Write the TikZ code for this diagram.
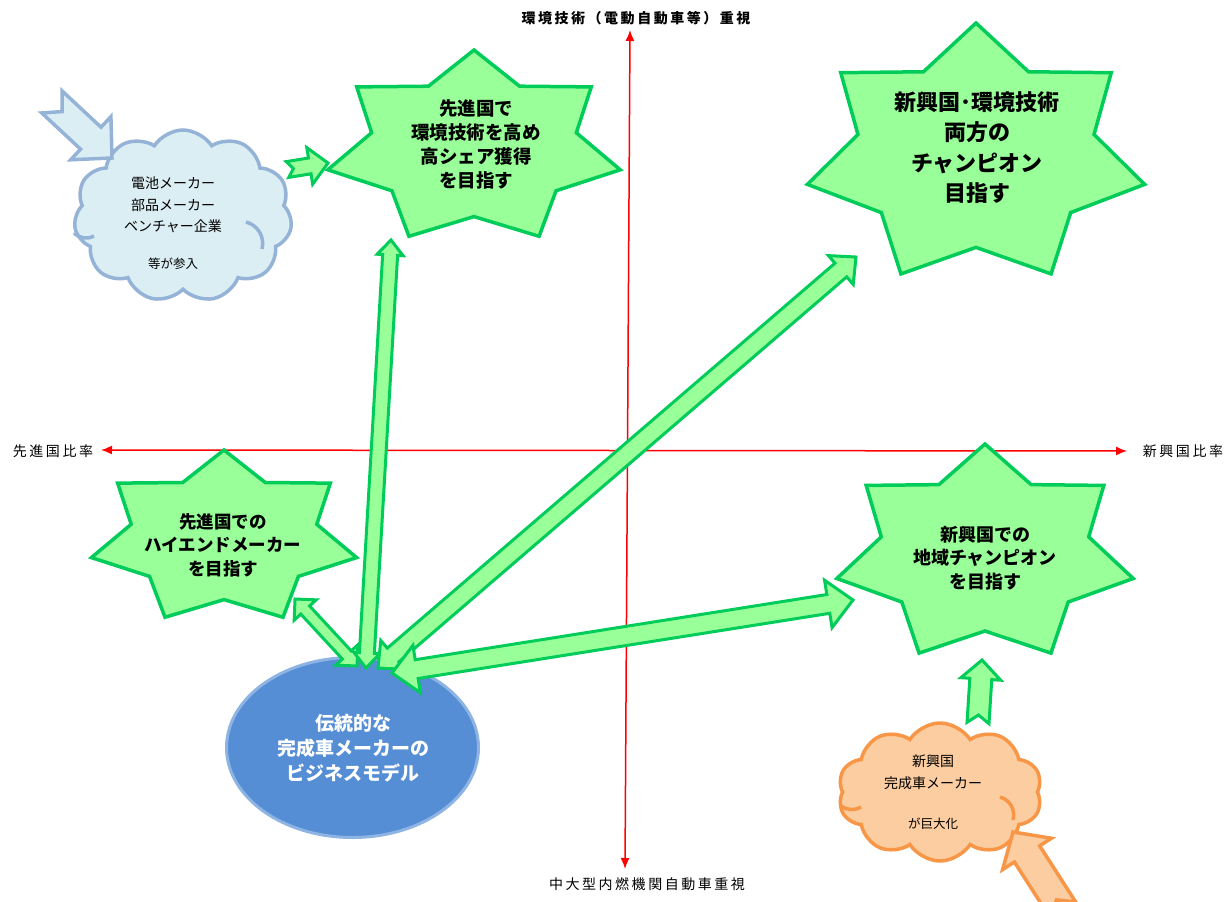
\documentclass[tikz,border=0pt]{standalone}
\usepackage{fontspec}
\newfontfamily\jp{Noto Sans CJK JP}
\usetikzlibrary{calc,arrows.meta,shapes.geometric,shapes.symbols}
\definecolor{gfill}{RGB}{153,255,153}
\definecolor{gline}{RGB}{0,204,90}
\definecolor{bcfill}{RGB}{219,238,244}
\definecolor{bcline}{RGB}{149,179,215}
\definecolor{ocfill}{RGB}{252,205,160}
\definecolor{ocline}{RGB}{247,150,70}
\definecolor{elfill}{RGB}{85,142,213}
\definecolor{elline}{RGB}{142,180,227}
\tikzset{
 axisline/.style={red, line width=1.5pt, {Latex[length=11pt,width=9pt]}-{Latex[length=11pt,width=9pt]}},
 starshape/.style={draw=gline, fill=gfill, line width=3.5pt, line join=miter},
 blockarrow/.style={draw=gline, fill=gfill, line width=3pt, line join=miter},
 startext/.style={font=\jp\bfseries\fontsize{18.5pt}{24pt}\selectfont, align=center, text=black, inner sep=0pt},
 axlab/.style={font=\jp\fontsize{14pt}{16pt}\selectfont\addfontfeature{LetterSpace=18}, inner sep=0pt},
 cloudtext/.style={font=\jp\fontsize{14pt}{21.7pt}\selectfont, align=center, inner sep=0pt},
 smalltext/.style={font=\jp\fontsize{12.5pt}{15pt}\selectfont, inner sep=0pt},
 bluearc/.style={draw=bcline, line width=3.5pt},
 orangearc/.style={draw=ocline, line width=3.5pt},
}
% double headed block arrow: #1 A, #2 B, #3 half shaft, #4 half head, #5 head length
\newcommand\dblblock[5]{%
 \draw[blockarrow] (#1) -- ($(#1)!#5!(#2)!#4!90:(#2)$) -- ($(#1)!#5!(#2)!#3!90:(#2)$)
  -- ($(#2)!#5!(#1)!#3!-90:(#1)$) -- ($(#2)!#5!(#1)!#4!-90:(#1)$) -- (#2)
  -- ($(#2)!#5!(#1)!#4!90:(#1)$) -- ($(#2)!#5!(#1)!#3!90:(#1)$)
  -- ($(#1)!#5!(#2)!#3!-90:(#2)$) -- ($(#1)!#5!(#2)!#4!-90:(#2)$) -- cycle;}
% notched block arrow: #1 style, #2 tail A, #3 tip B, #4 half shaft, #5 half head, #6 head length, #7 notch
\newcommand\notchblock[7]{%
 \draw[#1] (#3) -- ($(#3)!#6!(#2)!#5!90:(#2)$) -- ($(#3)!#6!(#2)!#4!90:(#2)$)
  -- ($(#2)!#4!-90:(#3)$) -- ($(#2)!#7!(#3)$) -- ($(#2)!#4!90:(#3)$)
  -- ($(#3)!#6!(#2)!#4!-90:(#2)$) -- ($(#3)!#6!(#2)!#5!-90:(#2)$) -- cycle;}
% seven point star: #1 cx, #2 cy, #3 rx, #4 ry
\newcommand\sevenstar[4]{%
 \begin{scope}[shift={(#1,#2)},x=#3pt,y=#4pt]
  \draw[starshape] (90:1) \foreach \k in {1,...,13}{ -- ({90-\k*180/7}:{1-0.3*mod(\k,2)}) } -- cycle;
 \end{scope}}
\begin{document}
\begin{tikzpicture}[x=1pt,y=-1pt]
\useasboundingbox (0,0) rectangle (1232,902);
% axes
\coordinate (vt) at (630,30);
\coordinate (vb) at (625,869);
\coordinate (hl) at (101,450);
\coordinate (hr) at (1127,451);
\draw[axisline] (vb) -- (vt);
\draw[axisline] (hl) -- (hr);
\node[axlab, font=\jp\bfseries\fontsize{14pt}{16pt}\selectfont\addfontfeature{LetterSpace=18}] (labtop) at (636,18) {環境技術（電動自動車等）重視};
\node[axlab] (lableft) at (53,451) {先進国比率};
\node[axlab] (labright) at (1183,451) {新興国比率};
\node[axlab] (labbottom) at (647,884) {中大型内燃機関自動車重視};
% stars
\sevenstar{474}{148}{150}{98}
\sevenstar{976}{155}{173}{132}
\sevenstar{224}{538}{136}{88}
\sevenstar{985}{554}{152}{110}
% ellipse
\node[ellipse, draw=elline, fill=elfill, line width=3pt, minimum width=252pt, minimum height=180pt] (el) at (352.5,747.5) {};
% clouds
\node[cloud, cloud puffs=11, cloud puff arc=115, cloud ignores aspect, minimum width=218pt, minimum height=172pt, draw=bcline, fill=bcfill, line width=3.5pt] (bcloud) at (183,216) {};
\draw[bluearc] (246,222) to[bend left=45] (262,249);
\draw[bluearc] (74,233) to[bend right=35] (94,236);
\node[cloud, cloud puffs=10, cloud puff arc=115, cloud ignores aspect, minimum width=204pt, minimum height=138pt, draw=ocline, fill=ocfill, line width=3.5pt] (ocloud) at (940,792) {};
\draw[orangearc] (1000,797) to[bend left=45] (1013,820);
\draw[orangearc] (840,805) to[bend right=35] (861,807);
% block arrows from ellipse
\coordinate (eC) at (357,666); \coordinate (tC) at (295,599);
\coordinate (eA) at (366,668); \coordinate (tA) at (391,240);
\coordinate (eB) at (378,668); \coordinate (tB) at (856,257);
\coordinate (eD) at (392,673); \coordinate (tD) at (853,600);
\dblblock{eC}{tC}{6pt}{15pt}{15pt}
\dblblock{eA}{tA}{7.5pt}{13pt}{15pt}
\dblblock{eB}{tB}{9pt}{19pt}{20pt}
\dblblock{eD}{tD}{9.5pt}{24pt}{25pt}
% notched arrows
\coordinate (bt) at (52,102); \coordinate (bh) at (112,158);
\notchblock{draw=bcline, fill=bcfill, line width=3.5pt, line join=miter}{bt}{bh}{15pt}{29.5pt}{29pt}{14pt}
\coordinate (gt) at (287.5,169.5); \coordinate (gh) at (328,163);
\notchblock{blockarrow}{gt}{gh}{8pt}{18.5pt}{18.5pt}{6pt}
\coordinate (ut) at (978,723); \coordinate (uh) at (982,660);
\notchblock{blockarrow}{ut}{uh}{11pt}{20pt}{19pt}{8pt}
\coordinate (ot) at (1063,910); \coordinate (oh) at (1013,832);
\notchblock{draw=ocline, fill=ocfill, line width=3.5pt, line join=miter}{ot}{oh}{15pt}{29pt}{26pt}{12pt}
% texts
\node[startext] (sA) at (476,144) {先進国で\\環境技術を高め\\高シェア獲得\\を目指す};
\node[startext, font=\jp\bfseries\fontsize{22pt}{30.5pt}\selectfont] (sB) at (977,147.5) {新興国･環境技術\\両方の\\チャンピオン\\目指す};
\node[startext, font=\jp\bfseries\fontsize{17.5pt}{23.5pt}\selectfont] (sC) at (223,545) {先進国での\\ハイエンドメーカー\\を目指す};
\node[startext, font=\jp\bfseries\fontsize{18pt}{23.5pt}\selectfont] (sD) at (985,558) {新興国での\\地域チャンピオン\\を目指す};
\node[startext, text=white, font=\jp\bfseries\fontsize{19pt}{25pt}\selectfont] (elt) at (353,748) {伝統的な\\完成車メーカーの\\ビジネスモデル};
\node[cloudtext] (bct) at (173,205) {電池メーカー\\部品メーカー\\ベンチャー企業};
\node[smalltext] (bcs) at (173,263.5) {等が参入};
\node[cloudtext] (oct) at (933,772.5) {新興国\\完成車メーカー};
\node[smalltext] (ocs) at (933,823.5) {が巨大化};
\end{tikzpicture}
\end{document}
